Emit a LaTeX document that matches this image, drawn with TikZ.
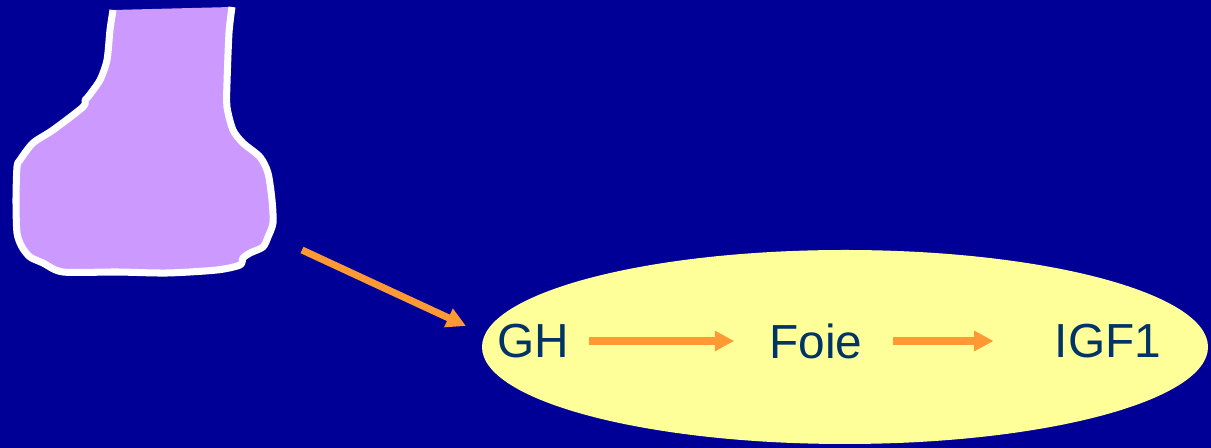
\documentclass[tikz,border=0pt]{standalone}
\usepackage{fontspec}
\setmainfont{Liberation Sans}
\usetikzlibrary{arrows.meta,shapes,calc,positioning}
\definecolor{slidebg}{RGB}{0,0,150}
\definecolor{glandfill}{RGB}{204,153,255}
\definecolor{liverfill}{RGB}{255,255,153}
\definecolor{flowcol}{RGB}{255,153,51}
\definecolor{labelcol}{RGB}{0,51,102}

\begin{document}
\begin{tikzpicture}[x=0.02cm,y=-0.02cm,
    flow/.style={draw=flowcol,line width=4pt,-{Triangle[length=11pt,width=11pt]}},
    hormone/.style={inner sep=0pt,text=labelcol,font=\fontsize{27.2}{33}\selectfont}]
\fill[slidebg] (0,0) rectangle (1211,448);
\useasboundingbox (0,0) rectangle (1211,448);
%% gland, the top edge is left open
\filldraw[fill=glandfill,draw=white,line width=4pt,line join=round]
  plot[smooth,tension=0.45] coordinates {(232,7) (229,33) (227,83) (227,107) (233,130) (243,143)
    (260,157) (268,173) (272,200) (273,223) (268,237) (263,247) (250,253) (243,258) (240,265)
    (217,270) (167,273) (117,272) (63,272) (43,263) (30,257) (22,247) (17,233) (16,200)
    (17,167) (20,160) (33,143) (53,130) (83,107) (85,100) (88,97) (100,80) (107,60) (110,30) (113,10)};
\fill[liverfill] (845,347) ellipse [x radius=363,y radius=97];
\node[hormone] (gh) at (533,341) {GH};
\node[hormone] (foie) at (816,341) {Foie};
\node[hormone] (igf1) at (1108,341) {IGF1};
\coordinate (gland) at (302,250);
\coordinate (liver) at (466,326);
\draw[flow] (gland) -- (liver);
\draw[flow] ($(gh.east)+(20,0)$) -- ($(foie.west)+(-35,0)$);
\draw[flow] ($(foie.east)+(30,0)$) -- ($(igf1.west)+(-61,0)$);
\end{tikzpicture}
\end{document}
